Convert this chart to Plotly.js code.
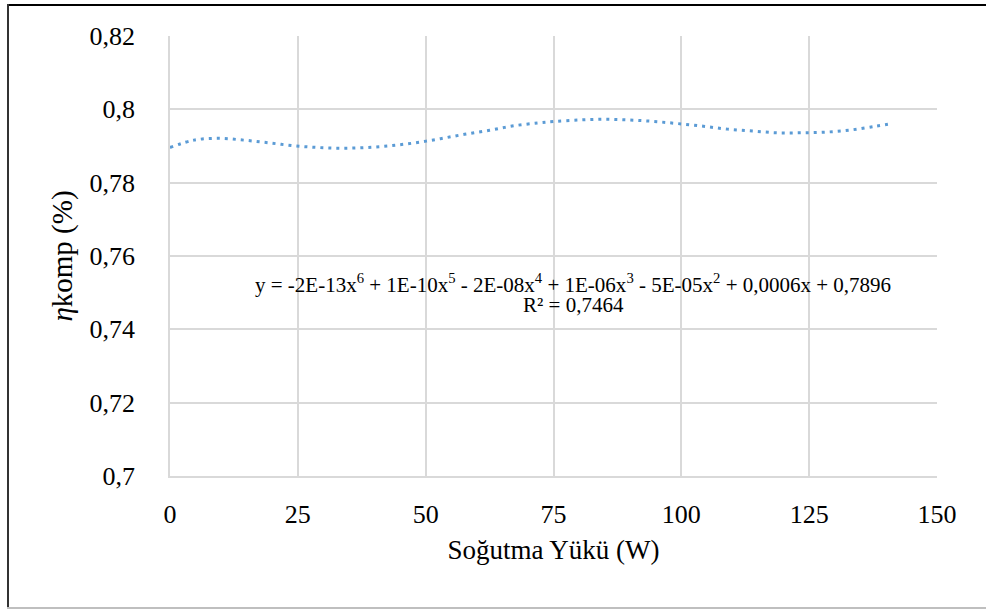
<!DOCTYPE html>
<html>
<head>
<meta charset="utf-8">
<script src="https://cdn.plot.ly/plotly-3.0.1.min.js"></script>
<style>
html,body{margin:0;padding:0;background:#fff;font-family:'Liberation Serif';}
.bd{position:absolute;pointer-events:none;}
#chart svg text, #chart svg tspan { font-family: 'Liberation Serif', serif !important; }
</style>
</head>
<body>
<div id="chart" style="width:986px;height:609px;"></div>
<div class="bd" style="left:7px;top:4px;width:979px;height:2px;background:#000;"></div>
<div class="bd" style="left:7px;top:4px;width:2px;height:605px;background:#333;"></div>
<div class="bd" style="left:7px;top:607px;width:979px;height:2px;background:#bfbfbf;"></div>
<script>
// Trendline
const loadW = [0, 4.7, 9.5, 14.4, 19.1, 24.0, 28.8, 33.6, 38.5, 43.3, 48.1, 52.9, 57.6, 62.5, 67.2, 72.0, 75.2, 80.1, 84.9, 89.8, 94.6, 99.4, 104.3, 109.0, 113.9, 118.7, 123.5, 128.4, 133.3, 138.0, 141.3];
const etaKomp = [0.7896, 0.7916, 0.7921, 0.7916, 0.7909, 0.7901, 0.7896, 0.7894, 0.7896, 0.7901, 0.7909, 0.7920, 0.7932, 0.7943, 0.7955, 0.7963, 0.7967, 0.7971, 0.7973, 0.7971, 0.7967, 0.7961, 0.7954, 0.7946, 0.7941, 0.7936, 0.7936, 0.7938, 0.7944, 0.7954, 0.7961];
const yTicks = [0.7, 0.72, 0.74, 0.76, 0.78, 0.8, 0.82];
const yTickText = ['0,7', '0,72', '0,74', '0,76', '0,78', '0,8', '0,82'];
const xTicks = [0, 25, 50, 75, 100, 125, 150];
const xTickText = ['0', '25', '50', '75', '100', '125', '150'];
const eqText = "y = -2E-13x<sup>6</sup> + 1E-10x<sup>5</sup> - 2E-08x<sup>4</sup> + 1E-06x<sup>3</sup> - 5E-05x<sup>2</sup> + 0,0006x + 0,7896";
const r2Text = "R² = 0,7464";

Plotly.newPlot('chart', [{
  x: loadW, y: etaKomp, type: 'scatter', mode: 'lines',
  line: {color: '#5b9bd5', width: 3, dash: '3px,5px', shape: 'spline', smoothing: 1},
  showlegend: false
}], {
  width: 986, height: 609,
  margin: {l: 170, r: 49, t: 36, b: 133},
  font: {family: 'Liberation Serif', color: 'black', size: 26},
  xaxis: {
    range: [0, 150], tickvals: xTicks, ticktext: xTickText,
    showgrid: true, gridcolor: '#d9d9d9', gridwidth: 1.5,
    showline: true, linecolor: '#d9d9d9', linewidth: 1.5,
    zeroline: false, ticks: 'outside', ticklen: 14, tickcolor: 'rgba(0,0,0,0)',
    title: {text: 'Soğutma Yükü (W)', standoff: 12, font: {family: 'Liberation Serif', size: 27, color: 'black'}}
  },
  yaxis: {
    range: [0.7, 0.82], tickvals: yTicks, ticktext: yTickText,
    showgrid: true, gridcolor: '#d9d9d9', gridwidth: 1.5,
    showline: true, linecolor: '#d9d9d9', linewidth: 1.5,
    zeroline: false, ticks: 'outside', ticklen: 28, tickcolor: 'rgba(0,0,0,0)',
    title: {text: '<i>η</i>komp (%)', standoff: 8, font: {family: 'Liberation Serif', size: 29, color: 'black'}}
  },
  annotations: [
    {xref: 'x', yref: 'y', x: 78.9, y: 0.7526, text: eqText, showarrow: false,
     font: {family: 'Liberation Serif', size: 21, color: 'black'}},
    {xref: 'x', yref: 'y', x: 78.9, y: 0.7466, text: r2Text, showarrow: false,
     font: {family: 'Liberation Serif', size: 21, color: 'black'}}
  ]
}, {displayModeBar: false});
</script>
</body>
</html>
